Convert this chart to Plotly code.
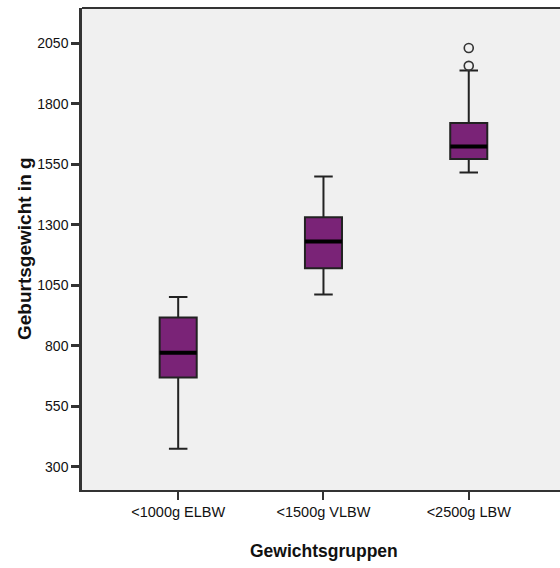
import plotly.graph_objects as go

categories = ["<1000g ELBW", "<1500g VLBW", "<2500g LBW"]
q1 = [668, 1120, 1571]
median = [771, 1230, 1623]
q3 = [916, 1331, 1720]
lower_whisker = [374, 1011, 1515]
upper_whisker = [1001, 1499, 1937]
outlier_group = [2, 2]
outlier_values = [1956, 2030]
y_tickvals = [300, 550, 800, 1050, 1300, 1550, 1800, 2050]

BOX_W = 0.255
FILL = "#7A2377"
LINE = "#222222"
XTICK_FONT = dict(family="Liberation Sans, Arial", size=14.5, color="#111111")
YTICK_FONT = dict(family="Liberation Sans, Arial", size=14, color="#111111")

xpos = list(range(len(categories)))

fig = go.Figure()
fig.add_trace(go.Box(
    x=xpos, q1=q1, median=median, q3=q3,
    lowerfence=lower_whisker, upperfence=upper_whisker,
    width=BOX_W, whiskerwidth=0.5,
    fillcolor=FILL, line=dict(color=LINE, width=2),
    boxpoints=False, showlegend=False, hoverinfo="skip",
))

mx, my = [], []
for i, m in zip(xpos, median):
    mx += [i - BOX_W / 2, i + BOX_W / 2, None]
    my += [m, m, None]
fig.add_trace(go.Scatter(x=mx, y=my, mode="lines",
                         line=dict(color="#000000", width=4),
                         showlegend=False, hoverinfo="skip"))

fig.add_trace(go.Scatter(x=outlier_group, y=outlier_values, mode="markers",
                         marker=dict(symbol="circle-open", size=9,
                                     color="#333333", line=dict(width=1.6)),
                         showlegend=False, hoverinfo="skip"))

L, R, T, B = 82, 0, 8, 78
W, H = 560, 568

fig.update_layout(
    width=W, height=H, autosize=False,
    margin=dict(l=L, r=R, t=T, b=B, pad=0),
    paper_bgcolor="white", plot_bgcolor="#F0F0F0",
    showlegend=False,
    xaxis=dict(range=[-0.662, 2.628], tickvals=xpos, ticktext=categories,
               showgrid=False, zeroline=False, showline=True,
               linecolor="#333333", linewidth=2,
               ticks="outside", ticklen=8, tickwidth=2, tickcolor="#333333",
               tickfont=XTICK_FONT),
    yaxis=dict(range=[203.7, 2195], tickvals=y_tickvals,
               showgrid=False, zeroline=False, showline=True,
               linecolor="#333333", linewidth=2.5,
               ticks="outside", ticklen=8, tickwidth=2.5, tickcolor="#333333",
               tickfont=YTICK_FONT),
    shapes=[dict(type="line", xref="paper", yref="paper", x0=0, x1=1, y0=1, y1=1,
                 line=dict(color="#333333", width=2))],
    annotations=[
        dict(text="<b>Geburtsgewicht in g</b>", xref="paper", yref="paper",
             x=(24 - L) / (W - L - R), y=0.5, textangle=-90,
             xanchor="center", yanchor="middle", showarrow=False,
             font=dict(family="Liberation Sans, Arial", size=19, color="#111111")),
        dict(text="<b>Gewichtsgruppen</b>", xref="paper", yref="paper",
             x=(324 - L) / (W - L - R), y=(490 - 551) / (H - T - B),
             xanchor="center", yanchor="middle", showarrow=False,
             font=dict(family="Liberation Sans, Arial", size=17.5, color="#111111")),
    ],
)

fig.write_html("out.html")
